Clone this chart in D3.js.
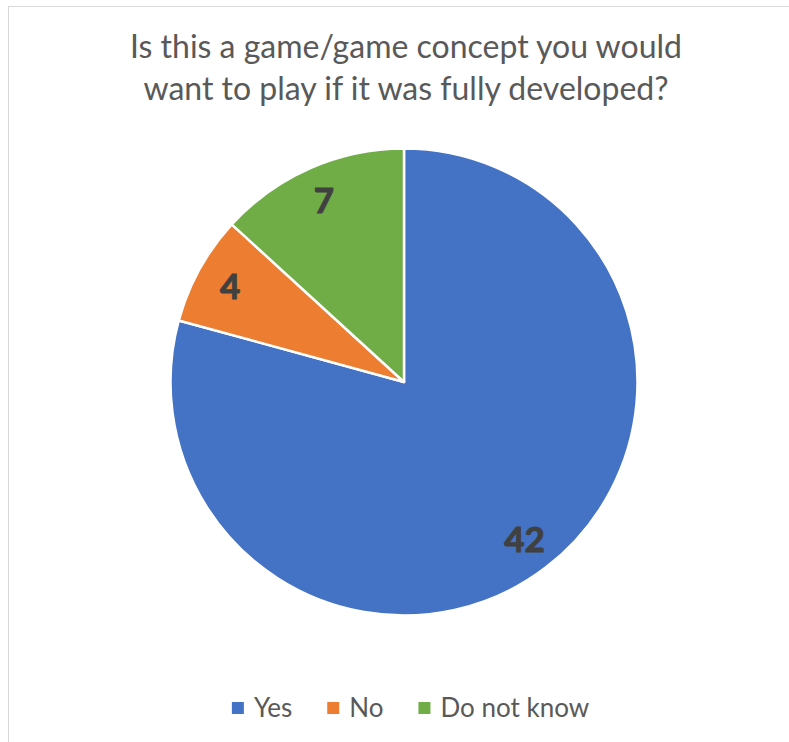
<!DOCTYPE html>
<html>
<head>
<meta charset="utf-8">
<script src="https://cdn.jsdelivr.net/npm/d3@7"></script>
<style>
  html, body { margin: 0; padding: 0; background: #ffffff; }
  svg { display: block; }
</style>
</head>
<body>
<svg id="chart" width="789" height="742"></svg>
<script>
// Survey answers
const categories = ["Yes", "No", "Do not know"];
const values = [42, 4, 7];
const colors = ["#4472C4", "#ED7D31", "#70AD47"];
const titleLines = [
  "Is this a game/game concept you would",
  "want to play if it was fully developed?"
];

const W = 789, H = 742;
const cx = 404, cy = 382, radius = 233.5;
const fontFamily = "Lato, 'Open Sans', sans-serif";

const svg = d3.select("#chart");

// chart area frame (runs off the right and bottom edges)
svg.append("rect")
  .attr("x", 8.5).attr("y", 6.5)
  .attr("width", 900).attr("height", 900)
  .attr("fill", "#ffffff")
  .attr("stroke", "#d9d9d9")
  .attr("stroke-width", 1);

// title
svg.append("text")
  .attr("text-anchor", "middle")
  .attr("font-family", fontFamily)
  .attr("font-size", 32)
  .attr("fill", "#595959")
  .selectAll("tspan")
  .data(titleLines)
  .join("tspan")
  .attr("x", 406)
  .attr("y", (d, i) => 58 + i * 41.5)
  .text(d => d);

// pie
const color = d3.scaleOrdinal().domain(categories).range(colors);
const pie = d3.pie().sort(null).value(d => d.value);
const data = categories.map((c, i) => ({ category: c, value: values[i] }));
const arcs = pie(data);

const arc = d3.arc().innerRadius(0).outerRadius(radius);
const labelArc = d3.arc().innerRadius(radius * 0.85).outerRadius(radius * 0.85);

const g = svg.append("g").attr("transform", `translate(${cx},${cy})`);

g.selectAll("path")
  .data(arcs)
  .join("path")
  .attr("d", arc)
  .attr("fill", d => color(d.data.category))
  .attr("stroke", "#ffffff")
  .attr("stroke-width", 2.5)
  .attr("stroke-linejoin", "round");

g.selectAll("text.value")
  .data(arcs)
  .join("text")
  .attr("class", "value")
  .attr("transform", d => `translate(${labelArc.centroid(d)})`)
  .attr("text-anchor", "middle")
  .attr("dy", "0.36em")
  .attr("font-family", fontFamily)
  .attr("font-weight", "bold")
  .attr("font-size", 35)
  .attr("fill", "#404040")
  .attr("stroke", "#404040")
  .attr("stroke-width", 1)
  .text(d => d.data.value);

// legend
const legendFont = 26;
const marker = 12, markerGap = 10, itemGap = 35;
const legend = svg.append("g");
const items = legend.selectAll("g")
  .data(categories)
  .join("g");
items.append("rect")
  .attr("width", marker).attr("height", marker)
  .attr("y", -marker / 2)
  .attr("fill", d => color(d));
items.append("text")
  .attr("x", marker + markerGap)
  .attr("dy", "0.36em")
  .attr("font-family", fontFamily)
  .attr("font-size", legendFont)
  .attr("fill", "#595959")
  .text(d => d);

let xPos = 0;
items.each(function () {
  const t = d3.select(this).select("text").node().getComputedTextLength();
  d3.select(this).attr("transform", `translate(${xPos},0)`);
  xPos += marker + markerGap + t + itemGap;
});
const totalW = xPos - itemGap;
legend.attr("transform", `translate(${410.5 - totalW / 2},708)`);
</script>
</body>
</html>
